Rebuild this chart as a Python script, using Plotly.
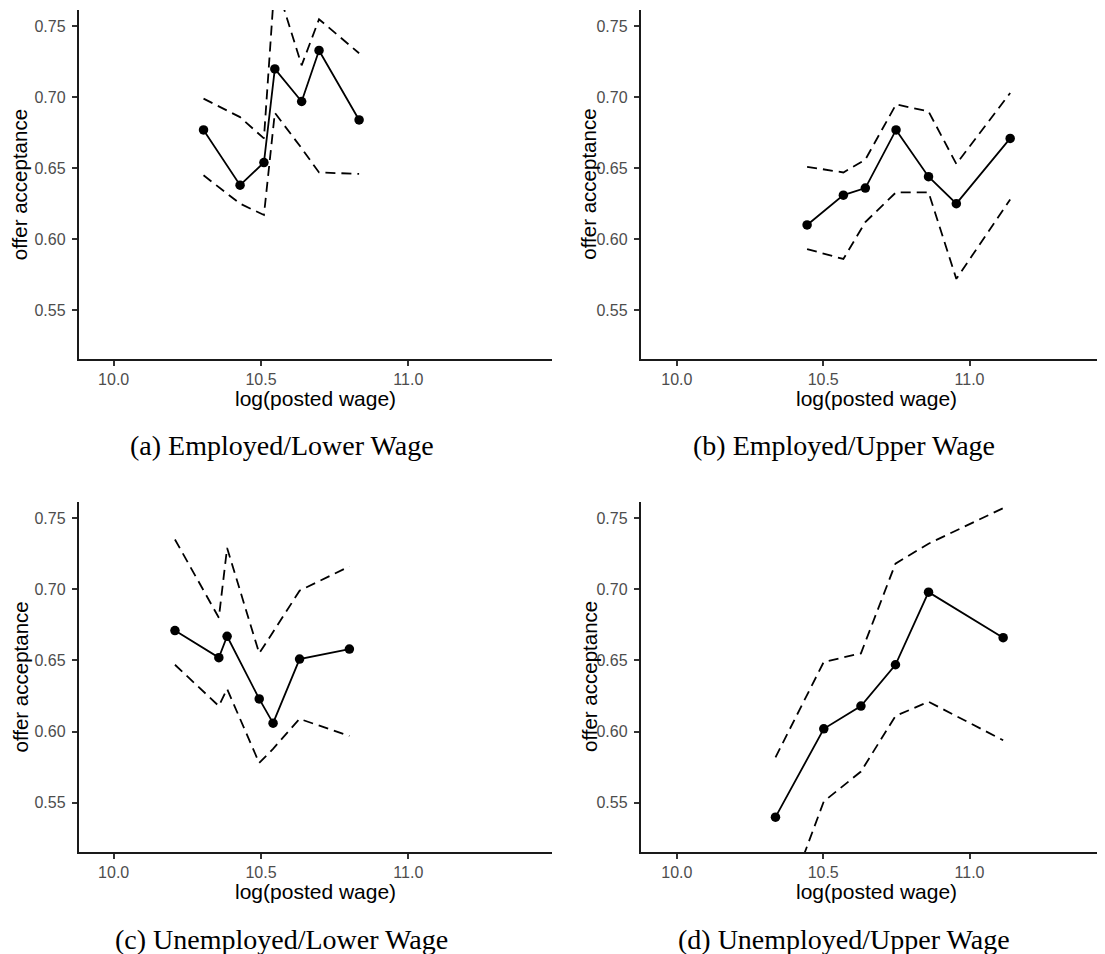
import plotly.graph_objects as go

# ---- data ----
wage_a = [10.305, 10.429, 10.510, 10.547, 10.638, 10.697, 10.833]
acc_a = [0.677, 0.638, 0.654, 0.720, 0.697, 0.733, 0.684]
up_a = [0.699, 0.686, 0.671, 0.783, 0.7225, 0.755, 0.731]
lo_a = [0.645, 0.625, 0.617, 0.689, 0.664, 0.647, 0.646]

wage_b = [10.445, 10.569, 10.644, 10.749, 10.860, 10.955, 11.139]
acc_b = [0.610, 0.631, 0.636, 0.677, 0.644, 0.625, 0.671]
up_b = [0.651, 0.647, 0.656, 0.695, 0.690, 0.653, 0.703]
lo_b = [0.593, 0.586, 0.612, 0.633, 0.633, 0.572, 0.628]

wage_c = [10.208, 10.357, 10.385, 10.494, 10.541, 10.631, 10.800]
acc_c = [0.671, 0.652, 0.667, 0.623, 0.606, 0.651, 0.658]
up_c = [0.735, 0.680, 0.729, 0.655, 0.670, 0.699, 0.716]
lo_c = [0.647, 0.618, 0.630, 0.578, 0.588, 0.609, 0.597]

wage_d = [10.337, 10.502, 10.629, 10.747, 10.860, 11.115]
acc_d = [0.540, 0.602, 0.618, 0.647, 0.698, 0.666]
up_d = [0.582, 0.649, 0.655, 0.718, 0.732, 0.757]
lo_d = [0.460, 0.551, 0.572, 0.611, 0.621, 0.594]

captions = ["(a) Employed/Lower Wage", "(b) Employed/Upper Wage",
            "(c) Unemployed/Lower Wage", "(d) Unemployed/Upper Wage"]
x_ticks = [10.0, 10.5, 11.0]
y_ticks = [0.55, 0.60, 0.65, 0.70, 0.75]
x_title = "log(posted wage)"
y_title = "offer acceptance"

OFF = 8  # page body margin
W, H = 1105 - OFF, 954 - OFF
panels = [
    (wage_a, acc_a, up_a, lo_a),
    (wage_b, acc_b, up_b, lo_b),
    (wage_c, acc_c, up_c, lo_c),
    (wage_d, acc_d, up_d, lo_d),
]

# layout geometry in screen pixels
left_px = [(78.6, 551.8), (640.6, 1112.0)]
top_px = [(10.0, 359.3), (501.7, 852.3)]
xranges = [[9.881, 11.487], [9.876, 11.487]]
yrange = [0.5153, 0.7615]


def px(v):
    return (v - OFF) / W


def py(v):
    return 1 - (v - OFF) / H


fig = go.Figure()
annotations = []
font_sans = "Liberation Sans, Arial, sans-serif"

for i, (xs, ys, up, lo) in enumerate(panels):
    col = i % 2
    row = i // 2
    n = i + 1
    xa = "x" if n == 1 else f"x{n}"
    ya = "y" if n == 1 else f"y{n}"
    for band in (up, lo):
        fig.add_trace(go.Scatter(x=xs, y=band, mode="lines", xaxis=xa, yaxis=ya,
                                 line=dict(color="black", width=1.8, dash="10px,6px"),
                                 showlegend=False, hoverinfo="skip"))
    fig.add_trace(go.Scatter(x=xs, y=ys, mode="lines+markers", xaxis=xa, yaxis=ya,
                             line=dict(color="black", width=1.8),
                             marker=dict(color="black", size=9.5),
                             showlegend=False))
    x0, x1 = left_px[col]
    t0, t1 = top_px[row]
    xdom = [px(x0), min(px(x1), 1.0)]
    ydom = [py(t1), py(t0)]
    # range end adjusted if domain clipped at the figure edge
    xr = list(xranges[col])
    if px(x1) > 1.0:
        scale = (xr[1] - xr[0]) / (x1 - x0)
        xr[1] = xr[0] + (W + OFF - x0) * scale
    axis_common = dict(showgrid=False, zeroline=False, showline=True,
                       linecolor="#1a1a1a", linewidth=1.7, ticks="outside",
                       ticklen=5, tickwidth=1.5, tickcolor="#333333",
                       tickfont=dict(family=font_sans, size=16, color="#4d4d4d"))
    fig.update_layout(**{
        ("xaxis" if n == 1 else f"xaxis{n}"): dict(
            domain=xdom, range=xr, anchor=ya, ticklabelstandoff=0,
            tickvals=x_ticks, tickformat=".1f", **axis_common),
        ("yaxis" if n == 1 else f"yaxis{n}"): dict(
            domain=ydom, range=yrange, anchor=xa, ticklabelstandoff=3,
            tickvals=y_ticks, tickformat=".2f", **axis_common),
    })
    # axis titles
    annotations.append(dict(text=x_title, xref="paper", yref="paper",
                            x=px([315.2, 876.3][col]), y=py(t1 + 38.7),
                            xanchor="center", yanchor="middle",
                            showarrow=False, font=dict(family=font_sans, size=21, color="black")))
    annotations.append(dict(text=y_title, xref="paper", yref="paper",
                            x=px([19.5, 589.0][col]), y=py((t0 + t1) / 2),
                            xanchor="center", yanchor="middle",
                            textangle=-90, showarrow=False,
                            font=dict(family=font_sans, size=20.5, color="black")))
    # caption
    cap_x = [281.5, 844.0][col]
    cap_y = [445.0, 939.0][row]
    annotations.append(dict(text=captions[i], xref="paper", yref="paper",
                            x=px(cap_x), y=py(cap_y), xanchor="center", yanchor="middle",
                            showarrow=False,
                            font=dict(family="Liberation Serif, Times New Roman, serif", size=28, color="black")))

fig.update_layout(width=W, height=H, margin=dict(l=0, r=0, t=0, b=0),
                  plot_bgcolor="white", paper_bgcolor="white",
                  annotations=annotations, showlegend=False)

fig.write_html("out.html")
